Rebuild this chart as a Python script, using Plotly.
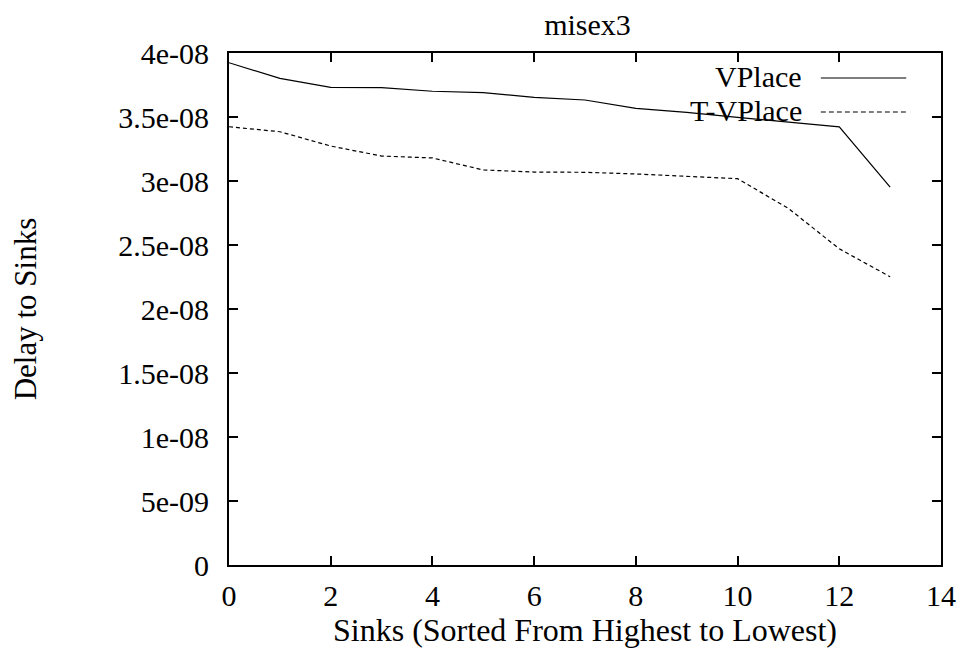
import plotly.graph_objects as go

# Sink index (sorted from highest to lowest delay)
sinks = list(range(14))

# Delay to each sink, in seconds
vplace = [3.924e-08, 3.802e-08, 3.732e-08, 3.729e-08, 3.701e-08, 3.690e-08, 3.654e-08,
          3.633e-08, 3.568e-08, 3.536e-08, 3.497e-08, 3.462e-08, 3.423e-08, 2.953e-08]
t_vplace = [3.424e-08, 3.385e-08, 3.273e-08, 3.195e-08, 3.180e-08, 3.086e-08, 3.070e-08,
            3.068e-08, 3.055e-08, 3.036e-08, 3.018e-08, 2.786e-08, 2.470e-08, 2.252e-08]

series_names = ["VPlace", "T-VPlace"]

x_ticks = [0, 2, 4, 6, 8, 10, 12, 14]
y_ticks = [0, 5e-09, 1e-08, 1.5e-08, 2e-08, 2.5e-08, 3e-08, 3.5e-08, 4e-08]
y_tick_labels = ["0", "5e-09", "1e-08", "1.5e-08", "2e-08", "2.5e-08", "3e-08", "3.5e-08", "4e-08"]

FONT = "Times New Roman"
FS = 30
W, H = 968, 649
ML, MR, MT, MB = 229, 22, 53, 84

fig = go.Figure()
fig.add_trace(go.Scatter(x=sinks, y=vplace, mode="lines", name=series_names[0],
                         line=dict(color="black", width=1.2), showlegend=False))
fig.add_trace(go.Scatter(x=sinks, y=t_vplace, mode="lines", name=series_names[1],
                         line=dict(color="black", width=1.2, dash="4px,3px"), showlegend=False))

axis_common = dict(
    showline=True, linecolor="black", linewidth=2, mirror="ticks",
    ticks="inside", ticklen=9, tickwidth=1.5, tickcolor="black",
    showgrid=False, zeroline=False,
    tickfont=dict(family=FONT, size=FS, color="black"),
)

fig.update_xaxes(range=[0, 14], tickvals=x_ticks, ticktext=[str(v) for v in x_ticks],
                 ticklabelstandoff=3,
                 title=dict(text="Sinks (Sorted From Highest to Lowest)",
                            font=dict(family=FONT, size=32, color="black"), standoff=0),
                 **axis_common)
fig.update_yaxes(range=[0, 4e-08], tickvals=y_ticks, ticktext=y_tick_labels,
                 ticklabelstandoff=12,
                 title=dict(text="Delay to Sinks",
                            font=dict(family=FONT, size=31, color="black"), standoff=72),
                 **axis_common)

# Legend drawn as right-aligned labels with line samples to their right
plot_w = W - ML - MR
plot_h = H - MT - MB
def px_x(p):
    return (p - ML) / plot_w
def px_y(p):
    return 1 - (p - MT) / plot_h

legend_rows = [(series_names[0], 76, "solid"), (series_names[1], 110, "5px,3px")]
for name, ypix, dash in legend_rows:
    fig.add_annotation(text=name, xref="paper", yref="paper", x=px_x(808), y=px_y(ypix),
                       xanchor="right", yanchor="middle", showarrow=False,
                       font=dict(family=FONT, size=FS, color="black"))
    fig.add_shape(type="line", xref="paper", yref="paper",
                  x0=px_x(825), x1=px_x(911), y0=px_y(ypix + 2), y1=px_y(ypix + 2),
                  line=dict(color="black", width=1.2, dash=dash))

fig.update_layout(
    width=W, height=H,
    margin=dict(l=ML, r=MR, t=MT, b=MB),
    paper_bgcolor="white", plot_bgcolor="white",
    title=dict(text="misex3", x=(ML + plot_w / 2) / W, xanchor="center",
               y=1 - 24 / H, yanchor="middle",
               font=dict(family=FONT, size=FS, color="black")),
    showlegend=False,
)

fig.write_html("out.html")
